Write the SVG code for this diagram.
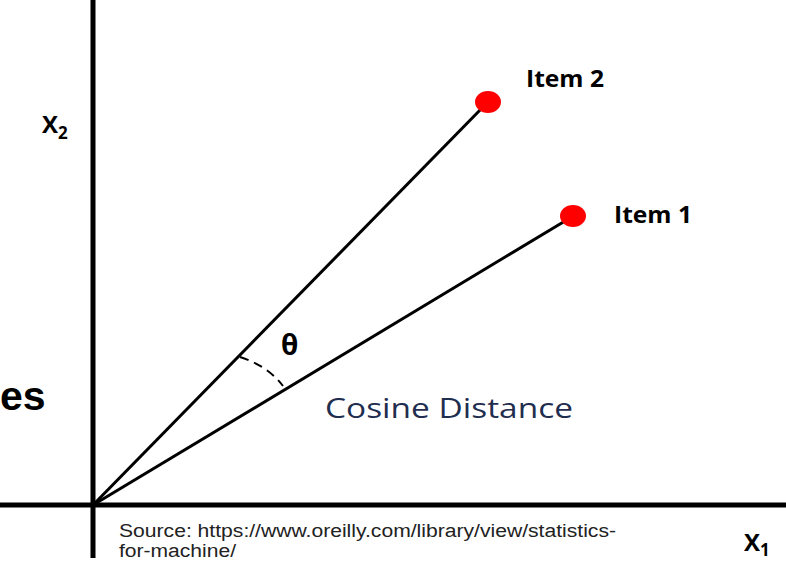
<svg xmlns="http://www.w3.org/2000/svg" width="786" height="566" viewBox="0 0 786 566">
<style>
.axis{stroke:#000;stroke-width:5;fill:none}
.vec{stroke:#000;stroke-width:3;fill:none}
.dot{fill:#ff0000}
.lbl{font-family:"Open Sans","Liberation Sans",sans-serif;font-weight:bold;fill:#000}
.src{font-family:"Liberation Sans",Arial,sans-serif;font-size:18px;fill:#222}
</style>
<rect width="786" height="566" fill="#fff"/>
<g id="axes">
<line class="axis" x1="93" y1="0" x2="93" y2="558"/>
<line class="axis" x1="0" y1="505" x2="786" y2="505"/>
</g>
<g id="connectors">
<line class="vec" x1="93" y1="505" x2="484" y2="106"/>
<line class="vec" x1="93" y1="505" x2="570" y2="218"/>
<path d="M240,357 Q268,366 283,386" stroke="#000" stroke-width="2" fill="none" stroke-dasharray="9,6"/>
</g>
<g id="item2">
<ellipse class="dot" cx="488" cy="102" rx="13" ry="11"/>
<text class="lbl" x="526" y="87" font-size="24" textLength="78" lengthAdjust="spacingAndGlyphs">Item 2</text>
</g>
<g id="item1">
<ellipse class="dot" cx="573" cy="216" rx="13" ry="11"/>
<text class="lbl" x="614" y="223" font-size="24" textLength="78" lengthAdjust="spacingAndGlyphs">Item 1</text>
</g>
<g id="x2label">
<text class="lbl" x="42" y="133" font-size="24">X<tspan font-size="17" dy="6">2</tspan></text>
</g>
<g id="x1label">
<text class="lbl" x="744" y="551" font-size="24">X<tspan font-size="17" dy="5">1</tspan></text>
</g>
<g id="theta">
<text class="lbl" x="281" y="355" font-size="28">θ</text>
</g>
<g id="cosine">
<text x="325" y="418" font-family="'Open Sans','Liberation Sans',sans-serif" font-size="27" fill="#1f2d4f" textLength="248" lengthAdjust="spacingAndGlyphs">Cosine Distance</text>
</g>
<g id="partial">
<text x="0" y="410" font-family="'Liberation Sans',Arial,sans-serif" font-weight="bold" font-size="41" fill="#000">es</text>
</g>
<g id="source">
<text class="src" x="119" y="537" textLength="497" lengthAdjust="spacingAndGlyphs">Source: https://www.oreilly.com/library/view/statistics-</text>
<text class="src" x="119" y="557" textLength="117" lengthAdjust="spacingAndGlyphs">for-machine/</text>
</g>
</svg>
